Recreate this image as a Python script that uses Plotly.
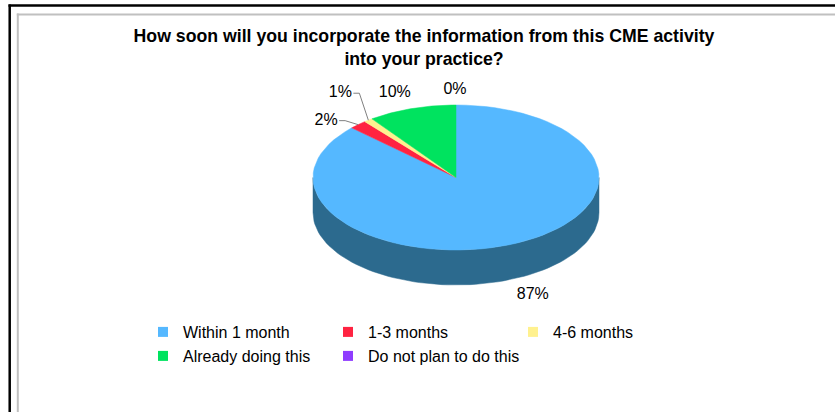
import numpy as np
import plotly.graph_objects as go

categories = ["Within 1 month", "1-3 months", "4-6 months", "Already doing this", "Do not plan to do this"]
values = [87, 2, 1, 10, 0]
pct_labels = ["87%", "2%", "1%", "10%", "0%"]
title_text = "How soon will you incorporate the information from this CME activity<br>into your practice?"

top_colors = ["#55b8ff", "#ff2341", "#fff18f", "#00e35f", "#8f3cff"]
side_colors = ["#2c6a8e", "#a8162c", "#b5aa5c", "#00953f", "#5a26a3"]

# pie geometry (pixel units, y grows downward)
CX, CY, RX, RY, DEPTH = 456, 177.5, 143, 72.5, 35
# label offsets from the slice edge, and which ones get a leader line
label_off = [(20, 16), (-32, -4), (-28, -27), (-17, -16), (-1, -15)]
leader = [False, True, True, False, False]
FONT = "Liberation Sans, Arial, sans-serif"


def arc(a0, a1, n=80):
    t = np.radians(np.linspace(a0, a1, n))
    return CX + RX * np.sin(t), CY - RY * np.cos(t)


fig = go.Figure()

vals = np.array(values, dtype=float)
ends = np.cumsum(vals) / vals.sum() * 360
starts = ends - vals / vals.sum() * 360

# side walls (front half only, 90..270 deg clockwise from top)
for i in range(len(vals)):
    lo, hi = max(starts[i], 90), min(ends[i], 270)
    if hi <= lo:
        continue
    x, y = arc(lo, hi)
    xs = np.concatenate([x, x[::-1], x[:1]])
    ys = np.concatenate([y, y[::-1] + DEPTH, y[:1]])
    fig.add_trace(go.Scatter(x=xs, y=ys, fill="toself", mode="lines",
                             line=dict(color=side_colors[i], width=0.5),
                             fillcolor=side_colors[i], showlegend=False, hoverinfo="skip"))

# top faces
for i in range(len(vals)):
    if vals[i] <= 0:
        continue
    x, y = arc(starts[i], ends[i])
    xs = np.concatenate([[CX], x, [CX]])
    ys = np.concatenate([[CY], y, [CY]])
    fig.add_trace(go.Scatter(x=xs, y=ys, fill="toself", mode="lines",
                             line=dict(color=top_colors[i], width=0.5),
                             fillcolor=top_colors[i], showlegend=False, hoverinfo="skip"))

# percentage labels
for i in range(len(vals)):
    mid = np.radians((starts[i] + ends[i]) / 2)
    ex = CX + RX * np.sin(mid)
    ey = CY - RY * np.cos(mid)
    if np.cos(mid) < 0:
        ey += DEPTH
    lx, ly = ex + label_off[i][0], ey + label_off[i][1]
    if leader[i]:
        tx = lx + 13
        fig.add_trace(go.Scatter(x=[tx, tx + 6, ex], y=[ly, ly, ey], mode="lines",
                                 line=dict(color="#808080", width=1),
                                 showlegend=False, hoverinfo="skip"))
    fig.add_trace(go.Scatter(x=[lx], y=[ly], mode="text", text=[pct_labels[i]],
                             textfont=dict(family=FONT, size=16, color="black"),
                             showlegend=False, hoverinfo="skip"))

# legend entries (last one in each row gets room for its full text)
for i, c in enumerate(categories):
    fig.add_trace(go.Scatter(x=[None], y=[None], mode="markers", name=c,
                             marker=dict(symbol="square", size=10, color=top_colors[i]),
                             legend="legend" if i < 3 else "legend2",
                             legendwidth=200 if i in (2, 4) else None))

leg = dict(orientation="h", xanchor="left", yanchor="middle", entrywidth=140,
           entrywidthmode="pixels", itemwidth=30, bgcolor="rgba(0,0,0,0)",
           font=dict(family=FONT, size=16, color="black"), tracegroupgap=0)

fig.update_layout(
    width=835, height=412,
    margin=dict(l=0, r=0, t=0, b=0),
    paper_bgcolor="white", plot_bgcolor="white",
    xaxis=dict(range=[0, 835], visible=False, fixedrange=True),
    yaxis=dict(range=[412, 0], visible=False, fixedrange=True),
    legend=dict(leg, x=143 / 835, y=1 - 332 / 412),
    legend2=dict(leg, x=143 / 835, y=1 - 356 / 412),
    title=dict(text=title_text, x=424 / 835, xanchor="center", y=1 - 42 / 412, yanchor="middle",
               font=dict(family=FONT, size=17.7, color="black", weight="bold")),
    shapes=[
        dict(type="line", xref="paper", yref="paper", x0=9.7 / 835, x1=9.7 / 835, y0=0, y1=1 - 4.5 / 412,
             line=dict(color="black", width=2.5)),
        dict(type="line", xref="paper", yref="paper", x0=8.5 / 835, x1=1, y0=1 - 5.5 / 412, y1=1 - 5.5 / 412,
             line=dict(color="black", width=2.5)),
        dict(type="line", xref="paper", yref="paper", x0=17.8 / 835, x1=17.8 / 835, y0=0, y1=1 - 13.5 / 412,
             line=dict(color="#c0c0c0", width=2)),
        dict(type="line", xref="paper", yref="paper", x0=16.8 / 835, x1=1, y0=1 - 14.5 / 412, y1=1 - 14.5 / 412,
             line=dict(color="#c0c0c0", width=2)),
    ],
)

fig.write_html("out.html", config={"displayModeBar": False},
               post_script="document.body.style.margin='0';")
